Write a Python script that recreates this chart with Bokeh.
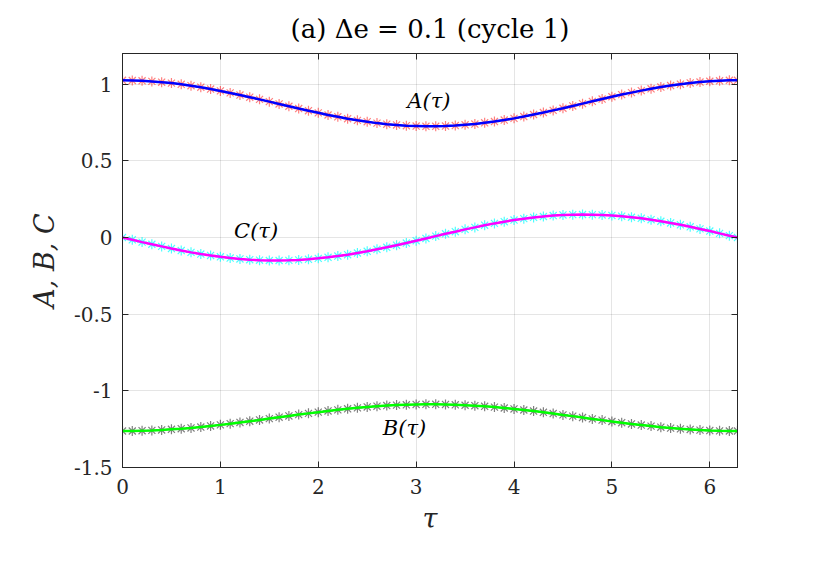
from bokeh.plotting import figure
from bokeh.models import Range1d, FixedTicker, CustomJSTickFormatter, LinearAxis
from bokeh.core.properties import value
from bokeh.embed import file_html
from bokeh.resources import INLINE

tau = [0.0, 0.1, 0.2, 0.3, 0.4, 0.5, 0.6, 0.7, 0.8, 0.9,
       1.0, 1.1, 1.2, 1.3, 1.4, 1.5, 1.6, 1.7, 1.8, 1.9,
       2.0, 2.1, 2.2, 2.3, 2.4, 2.5, 2.6, 2.7, 2.8, 2.9,
       3.0, 3.1, 3.2, 3.3, 3.4, 3.5, 3.6, 3.7, 3.8, 3.9,
       4.0, 4.1, 4.2, 4.3, 4.4, 4.5, 4.6, 4.7, 4.8, 4.9,
       5.0, 5.1, 5.2, 5.3, 5.4, 5.5, 5.6, 5.7, 5.8, 5.9,
       6.0, 6.1, 6.2, 6.283]

A_vals = [1.025, 1.024, 1.022, 1.018, 1.013, 1.007, 0.999, 0.990, 0.980, 0.968,
          0.956, 0.943, 0.929, 0.915, 0.901, 0.886, 0.871, 0.856, 0.841, 0.827,
          0.813, 0.799, 0.787, 0.775, 0.764, 0.755, 0.746, 0.739, 0.734, 0.729,
          0.727, 0.725, 0.725, 0.727, 0.730, 0.735, 0.740, 0.748, 0.756, 0.766,
          0.777, 0.789, 0.802, 0.815, 0.829, 0.843, 0.858, 0.873, 0.888, 0.903,
          0.918, 0.932, 0.945, 0.958, 0.970, 0.981, 0.991, 1.000, 1.008, 1.014,
          1.019, 1.022, 1.025, 1.025]

B_vals = [-1.262, -1.262, -1.260, -1.258, -1.255, -1.251, -1.247, -1.242, -1.236, -1.229,
          -1.222, -1.214, -1.206, -1.198, -1.190, -1.181, -1.172, -1.164, -1.155, -1.147,
          -1.139, -1.131, -1.124, -1.117, -1.111, -1.105, -1.100, -1.096, -1.093, -1.091,
          -1.089, -1.088, -1.088, -1.089, -1.091, -1.094, -1.097, -1.101, -1.106, -1.112,
          -1.118, -1.125, -1.132, -1.140, -1.148, -1.157, -1.165, -1.174, -1.183, -1.191,
          -1.200, -1.208, -1.216, -1.223, -1.230, -1.237, -1.243, -1.248, -1.252, -1.256,
          -1.259, -1.261, -1.262, -1.262]

C_vals = [0.000, -0.015, -0.030, -0.044, -0.058, -0.072, -0.085, -0.097, -0.108, -0.117,
          -0.126, -0.134, -0.140, -0.145, -0.148, -0.150, -0.150, -0.149, -0.146, -0.142,
          -0.136, -0.129, -0.121, -0.112, -0.101, -0.090, -0.077, -0.064, -0.050, -0.036,
          -0.021, -0.006, 0.009, 0.024, 0.038, 0.053, 0.066, 0.080, 0.092, 0.103,
          0.114, 0.123, 0.131, 0.137, 0.143, 0.147, 0.149, 0.150, 0.149, 0.147,
          0.144, 0.139, 0.132, 0.125, 0.116, 0.106, 0.095, 0.083, 0.070, 0.056,
          0.042, 0.027, 0.012, 0.000]

x_ticks = [0, 1, 2, 3, 4, 5, 6]
y_ticks = [-1.5, -1, -0.5, 0, 0.5, 1]

curve_labels = ["A(τ)", "C(τ)", "B(τ)"]
label_x = [2.91, 1.14, 2.66]
label_y = [0.89, 0.04, -1.242]

SERIF = "DejaVu Serif"

p = figure(frame_width=615, frame_height=414,
           min_border_left=122, min_border_right=77,
           min_border_top=53, min_border_bottom=100,
           x_range=Range1d(0, 6.2832), y_range=Range1d(-1.5, 1.2),
           output_backend="svg", toolbar_location=None,
           title="(a) Δe = 0.1 (cycle 1)")

p.background_fill_color = "white"
p.border_fill_color = "white"
p.outline_line_color = "#262626"
p.outline_line_width = 1

p.title.text_font = SERIF
p.title.text_font_size = "26px"
p.title.text_font_style = "normal"
p.title.align = "center"
p.title.text_color = "black"
p.title.standoff = 19

fmt = CustomJSTickFormatter(code="return tick.toString();")

p.xaxis.ticker = FixedTicker(ticks=x_ticks)
p.yaxis.ticker = FixedTicker(ticks=y_ticks)
for ax in (p.xaxis[0], p.yaxis[0]):
    ax.formatter = fmt
    ax.major_label_text_font = SERIF
    ax.major_label_text_font_size = "20px"
    ax.major_label_text_color = "#262626"
    ax.axis_line_color = "#262626"
    ax.major_tick_line_color = "#262626"
    ax.major_tick_in = 6
    ax.major_tick_out = 0
    ax.minor_tick_line_color = None
    ax.axis_label_text_font = SERIF
    ax.axis_label_text_font_style = "italic"
    ax.axis_label_text_font_size = "27px"
    ax.axis_label_text_color = "#262626"

p.xaxis.axis_label = "τ"
p.yaxis.axis_label = "A, B, C"
p.xaxis.major_label_standoff = 11
p.yaxis.major_label_standoff = 10
p.xaxis.axis_label_standoff = 6
p.yaxis.axis_label_standoff = 11

p.grid.grid_line_color = "black"
p.grid.grid_line_alpha = 0.1
p.xgrid.ticker = FixedTicker(ticks=x_ticks)
p.ygrid.ticker = FixedTicker(ticks=y_ticks)

# box ticks on top and right (no labels drawn)
for loc, tk in (("above", x_ticks), ("right", y_ticks)):
    ax2 = LinearAxis(ticker=FixedTicker(ticks=tk))
    ax2.major_label_text_font_size = "0px"
    ax2.major_label_text_color = None
    ax2.major_label_standoff = 0
    ax2.axis_line_color = "#262626"
    ax2.major_tick_line_color = "#262626"
    ax2.major_tick_in = 6
    ax2.major_tick_out = 0
    ax2.minor_tick_line_color = None
    p.add_layout(ax2, loc)

# markers (behind) then lines
p.scatter(tau, A_vals, marker="asterisk", size=10, line_color="red", line_alpha=0.5, line_width=1.2)
p.scatter(tau, C_vals, marker="asterisk", size=10, line_color="cyan", line_alpha=0.7, line_width=1.2)
p.scatter(tau, B_vals, marker="asterisk", size=10, line_color="black", line_alpha=0.5, line_width=1.2)

p.line(tau, A_vals, line_color="blue", line_width=2.5)
p.line(tau, C_vals, line_color="magenta", line_width=2.5)
p.line(tau, B_vals, line_color="#00ff00", line_width=2.5)

p.text(x=label_x, y=label_y, text=curve_labels,
       text_font=value(SERIF), text_font_style="italic", text_font_size="21px",
       text_align="left", text_baseline="middle", text_color="black")

open("out.html", "w").write(file_html(p, INLINE))
